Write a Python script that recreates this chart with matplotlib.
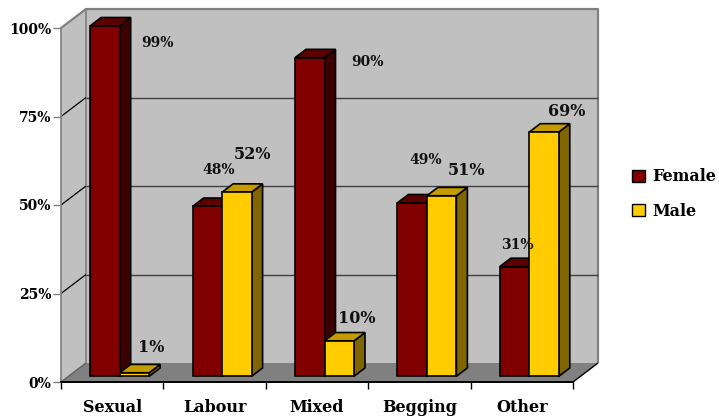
import matplotlib
matplotlib.use('Agg')
import matplotlib.pyplot as plt
from matplotlib.patches import Patch, Polygon

plt.rcParams['font.family'] = ['DejaVu Serif']
plt.rcParams['font.weight'] = 'bold'

categories = ['Sexual', 'Labour', 'Mixed', 'Begging', 'Other']
female = [99, 48, 90, 49, 31]
male = [1, 52, 10, 51, 69]
yticks = [0, 25, 50, 75, 100]

# label offsets from bar top centre, in pixels
female_offsets = [(53, -17), (11, 36), (58, -4), (14, 43), (3, 22)]
male_offsets = [(17, 25), (16, 38), (18, 22), (25, 25), (23, 21)]

W, H = 719, 418
fig = plt.figure(figsize=(W / 100, H / 100), dpi=100)
ax = fig.add_axes([61 / W, (H - 382) / H, 512 / W, 354 / H])
ax.set_xlim(0, 5)
ax.set_ylim(0, 100)
ax.patch.set_visible(False)

# depth of the fake 3d box, in data units
DX = 25 / 102.4
DY = 19 / 3.54
BAR_W = 0.288
FRONT = 0.30
BACK = 0.74


def poly(pts, color, edge='none', lw=0.0, z=1):
    ax.add_patch(Polygon(pts, closed=True, facecolor=color, edgecolor=edge,
                         linewidth=lw, clip_on=False, zorder=z, joinstyle='miter'))


def line(xs, ys, color, lw=1.0, z=2):
    ax.plot(xs, ys, color=color, lw=lw, clip_on=False, zorder=z, solid_capstyle='butt')


# walls and floor
poly([(0, 0), (DX, DY), (5 + DX, DY), (5 + DX, 100 + DY), (DX, 100 + DY), (0, 100)], '#c0c0c0')
poly([(0, 0), (5, 0), (5 + DX, DY), (DX, DY)], '#808080')
line([0, DX, 5 + DX, 5 + DX], [100, 100 + DY, 100 + DY, DY], '#808080', 1.6)
line([DX, DX], [DY, 100 + DY], '#808080', 1.2)
line([5, 5 + DX], [0, DY], 'black', 1.0)

for t in yticks[1:-1]:
    line([0, DX], [t, t + DY], 'black', 0.9)
    line([DX, 5 + DX], [t + DY, t + DY], '#404040', 1.0)
line([0, DX], [0, DY], '#606060', 1.0)


def bar3d(x, v, front, top, side, z):
    dx0, dy0 = FRONT * DX, FRONT * DY
    dx1, dy1 = (BACK - FRONT) * DX, (BACK - FRONT) * DY
    x0 = x + dx0
    y0 = dy0
    y1 = dy0 + v
    x1 = x0 + BAR_W
    poly([(x1, y0), (x1 + dx1, y0 + dy1), (x1 + dx1, y1 + dy1), (x1, y1)], side, 'black', 1.2, z)
    poly([(x0, y1), (x1, y1), (x1 + dx1, y1 + dy1), (x0 + dx1, y1 + dy1)], top, 'black', 1.2, z)
    poly([(x0, y0), (x1, y0), (x1, y1), (x0, y1)], front, 'black', 1.2, z + 0.1)
    return x0 + BAR_W / 2, y1


for i in range(len(categories)):
    fx, fy = bar3d(i + 0.5 - BAR_W, female[i], '#800000', '#5c0000', '#3c0000', 3 + i)
    mx, my = bar3d(i + 0.5, male[i], '#ffcc00', '#c49c00', '#7f6600', 3.5 + i)
    ax.annotate(f'{female[i]}%', (fx, fy), xytext=female_offsets[i], textcoords='offset pixels',
                ha='center', va='center', fontsize=10, color='#111111', zorder=20,
                annotation_clip=False)
    ax.annotate(f'{male[i]}%', (mx, my), xytext=male_offsets[i], textcoords='offset pixels',
                ha='center', va='center', fontsize=11.5, color='#111111', zorder=20,
                annotation_clip=False)

for s in ['top', 'right']:
    ax.spines[s].set_visible(False)
ax.spines['left'].set_color('#808080')
ax.spines['left'].set_linewidth(1.2)
ax.spines['bottom'].set_linewidth(1.4)
ax.spines['left'].set_zorder(2)

ax.set_yticks(yticks)
ax.set_yticklabels([f'{t}%' for t in yticks], fontsize=10)
ax.tick_params(axis='y', length=6, width=1.0, color='#808080', pad=1)
ax.set_xticks(range(len(categories) + 1))
ax.set_xticklabels([])
ax.tick_params(axis='x', length=5, width=1.0)
ax.set_xticks([i + 0.5 for i in range(len(categories))], categories, minor=True, fontsize=11.5)
ax.tick_params(axis='x', which='minor', length=0, pad=12)

handles = [Patch(facecolor='#800000', edgecolor='black', label='Female'),
           Patch(facecolor='#ffcc00', edgecolor='black', label='Male')]
ax.legend(handles=handles, loc='center left', bbox_to_anchor=(1.116, 0.531), frameon=False,
          fontsize=11.5, handlelength=0.8, handleheight=0.8, handletextpad=0.45,
          labelspacing=1.1, borderpad=0, borderaxespad=0)

fig.savefig('out.png', dpi=100)
